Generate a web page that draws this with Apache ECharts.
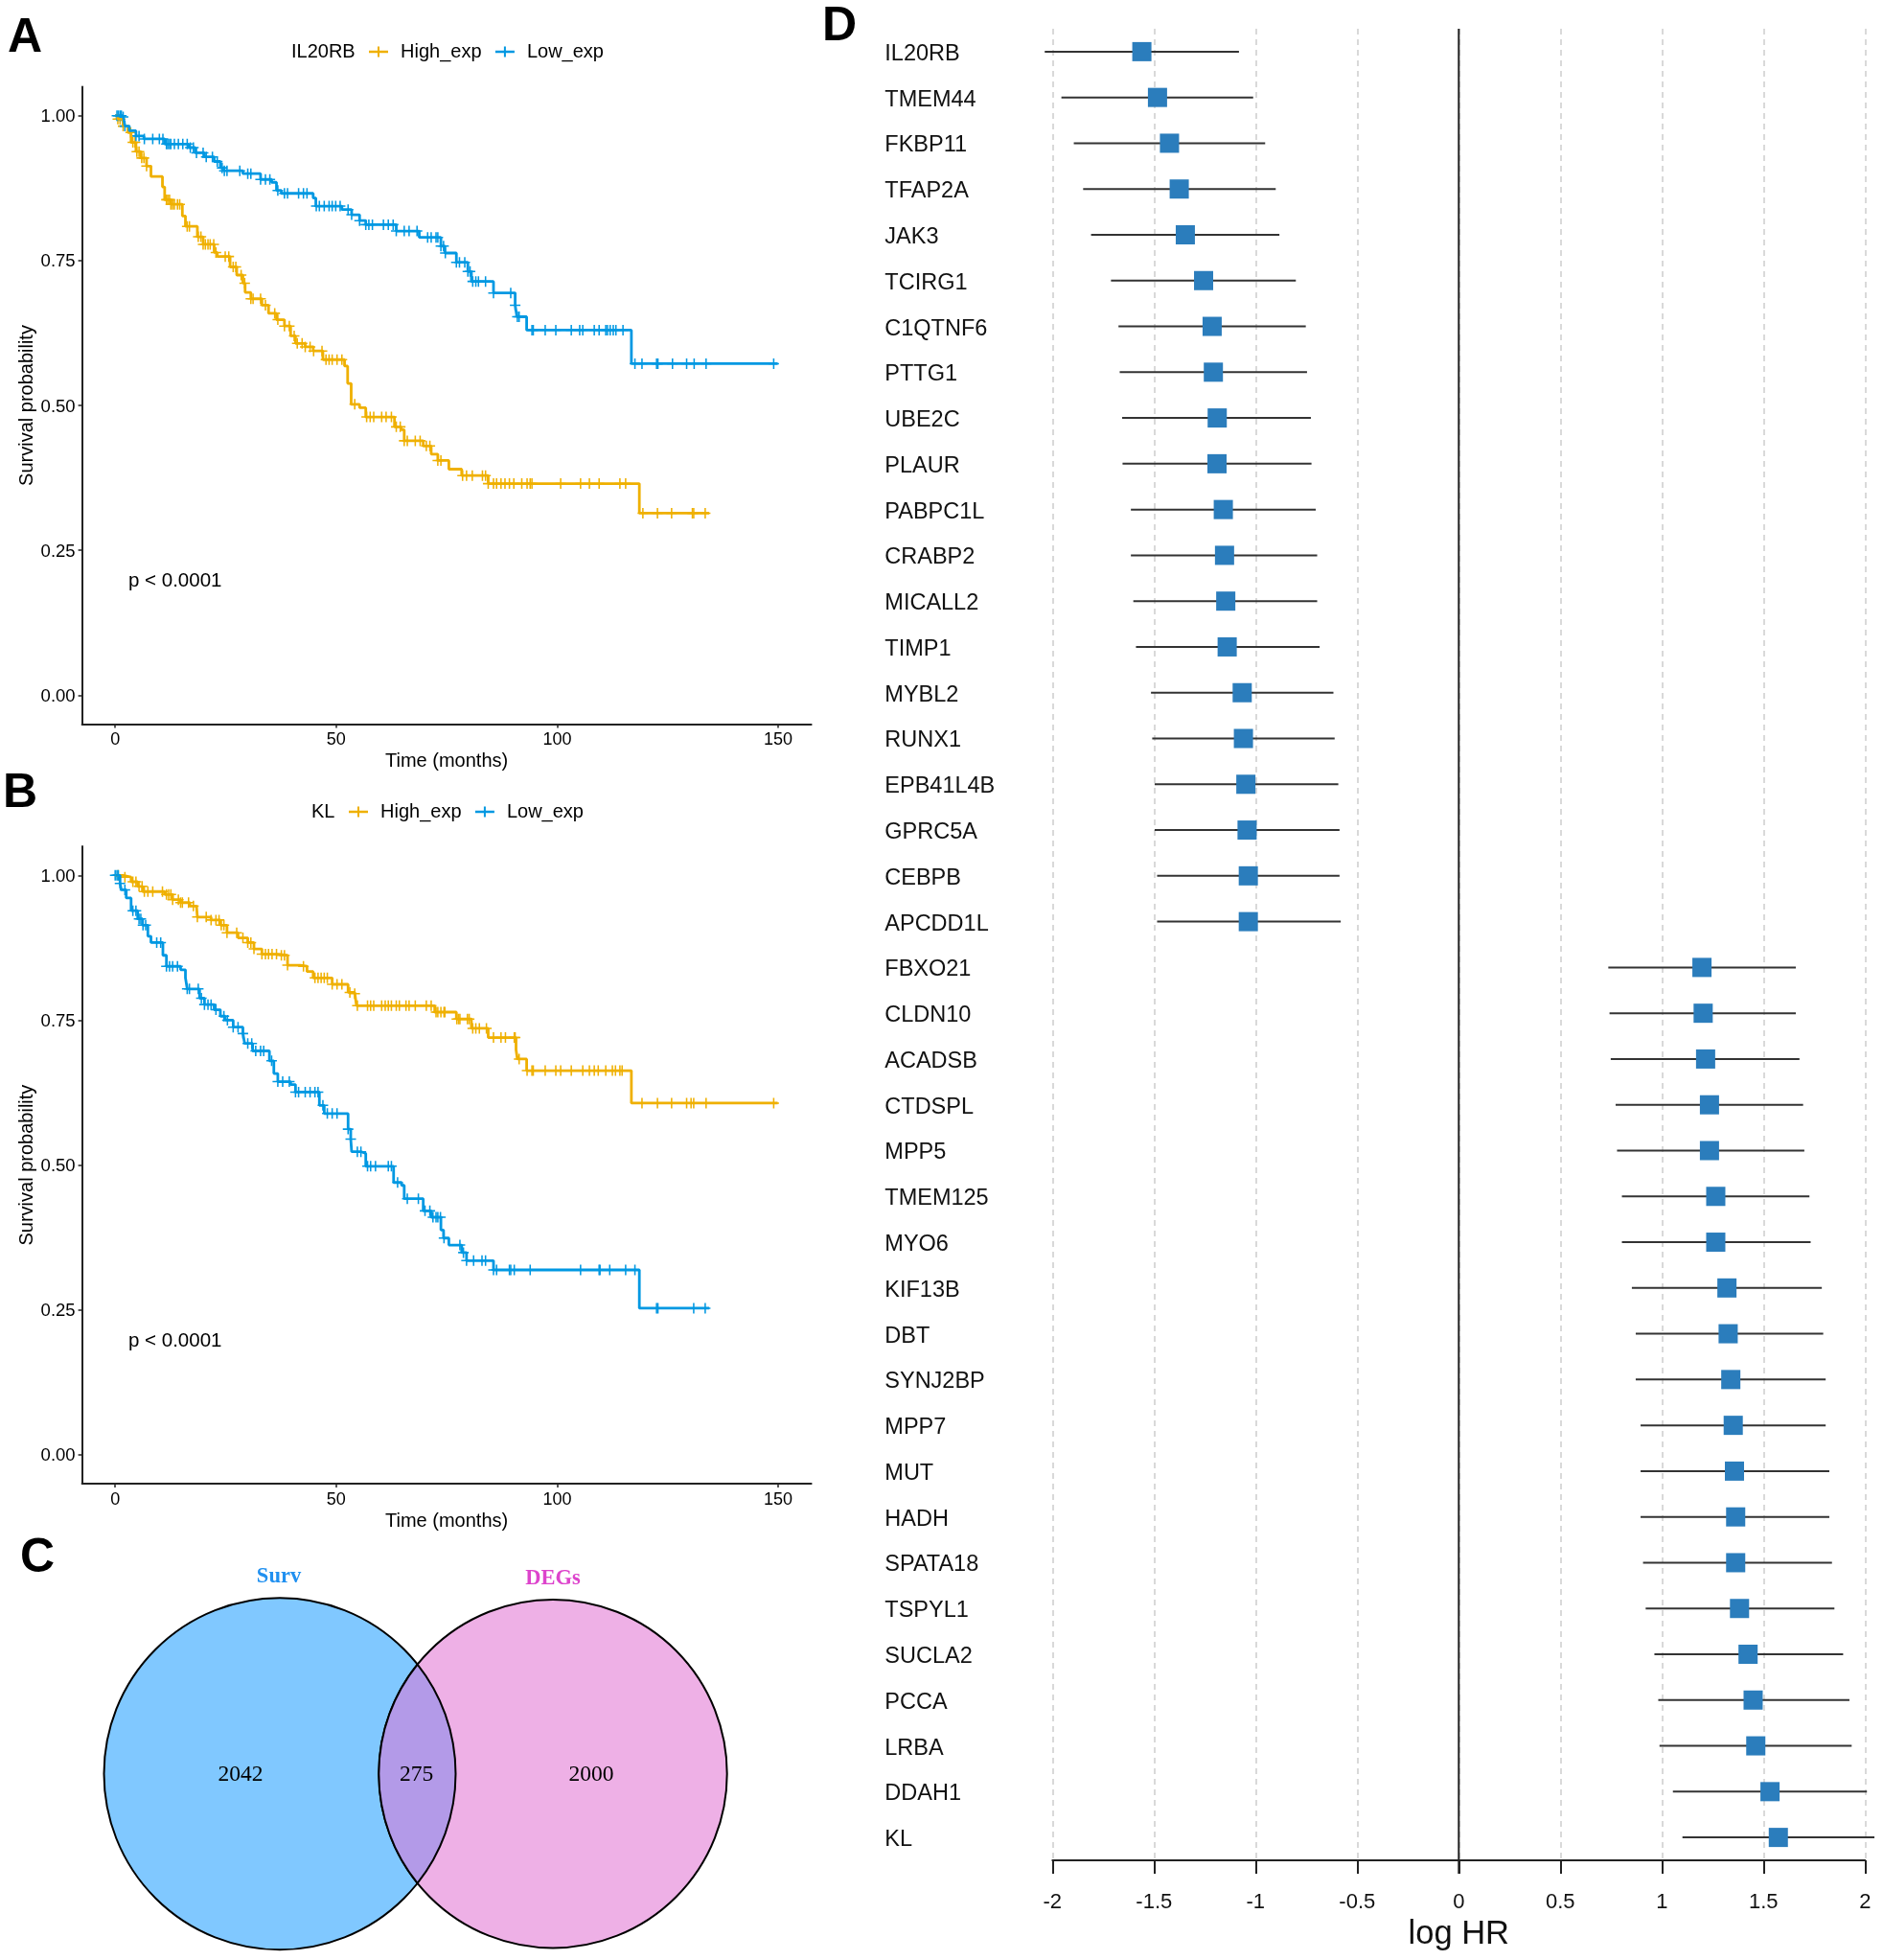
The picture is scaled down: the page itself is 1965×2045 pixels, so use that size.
<!DOCTYPE html>
<html lang="en">
<head>
    <meta charset="UTF-8">
    <title>Survival curves, Venn and forest plot</title>
    <script src="https://cdn.jsdelivr.net/npm/echarts@6/dist/echarts.min.js"></script>
    <style>
        html, body { margin: 0; padding: 0; background: #fff; }
        #chart { width: 1965px; height: 2045px; }
    </style>
</head>
<body>
    <div id="chart"></div>

    <script>
        const timeTicks = [0, 50, 100, 150];
        const survTicks = [0, 0.25, 0.5, 0.75, 1];
        const hrTicks = [-2, -1.5, -1, -0.5, 0, 0.5, 1, 1.5, 2];
        const seriesNames = ['High_exp', 'Low_exp'];

        // Panel A: IL20RB, step change points
        const aHighT = [0, 0.6, 1.8, 2.9, 3.6, 4.7, 5.8, 7.1, 8.1, 10.7,
            11.2, 12.6, 15.2, 15.9, 18.6, 19.9, 22.4, 23.1, 26.0, 27.5,
            28.9, 29.4, 30.7, 33.2, 34.7, 36.5, 38.3, 39.7, 40.8, 43.0,
            44.8, 47.0, 51.9, 52.6, 53.4, 55.3, 56.7, 63.2, 64.7, 65.4,
            69.7, 71.5, 73.0, 75.5, 78.4, 84.4, 118.6, 134.4];
        const aHighS = [1, 0.994, 0.982, 0.971, 0.954, 0.938, 0.927, 0.913, 0.895, 0.877,
            0.855, 0.847, 0.827, 0.809, 0.791, 0.778, 0.764, 0.757, 0.739, 0.725,
            0.711, 0.695, 0.684, 0.673, 0.659, 0.648, 0.637, 0.620, 0.607, 0.601,
            0.594, 0.579, 0.568, 0.538, 0.502, 0.496, 0.480, 0.463, 0.458, 0.439,
            0.430, 0.416, 0.405, 0.390, 0.379, 0.365, 0.314, 0.314];
        const aHighCens = [0.6, 1.1, 1.8, 3.5, 4, 4.5, 4.9, 5.4, 6, 6.5, 7.1, 11.6, 11.9, 12.3, 12.6, 13, 13.4, 14.1, 14.6,
            16.3, 16.8, 18.8, 19.4, 19.9, 20.4, 21, 21.5, 22.3, 22.8, 24.9, 25.7, 26.7, 27.3, 28.5, 29.3, 30.7, 31.2, 32.9, 34,
            36.1, 36.8, 38.3, 39.4, 40.5, 41.2, 42.3, 43, 44.1, 44.9, 46.8, 47.7, 48.4, 49.1, 50.2, 51.3, 54.2, 56.9, 57.7, 58.5,
            60.3, 61.3, 62.5, 63.6, 64.5, 65.4, 66.1, 67.9, 69, 70.4, 71.2, 73, 73.7, 78.6, 79.5, 80.8, 83.1, 83.8, 84.4, 85.6,
            86.3, 87.3, 88.2, 89.2, 90.2, 92, 93.2, 93.9, 94.3, 100.8, 105.3, 107.3, 109.5, 114.2, 115.5, 119.4, 122.7, 125.9,
            130.6, 130.9, 133.5];

        const aLowT = [0, 1.8, 2.2, 3.2, 4.7, 6.5, 11.2, 16.6, 18.1, 20.2,
            22.4, 23.8, 24.6, 28.9, 32.9, 35.4, 36.5, 37.6, 44.8, 45.4,
            51.3, 53.5, 55.3, 56.7, 63.6, 68.8, 73.7, 74.6, 77.2, 79.8,
            80.6, 85.6, 90.5, 90.9, 93.1, 116.8, 149.9];
        const aLowS = [1, 0.998, 0.982, 0.974, 0.965, 0.960, 0.951, 0.945, 0.936, 0.929,
            0.921, 0.910, 0.905, 0.900, 0.890, 0.885, 0.871, 0.866, 0.858, 0.844,
            0.838, 0.829, 0.819, 0.812, 0.801, 0.790, 0.775, 0.763, 0.747, 0.731,
            0.714, 0.694, 0.673, 0.653, 0.630, 0.572, 0.572];
        const aLowCens = [0.4, 0.7, 1.1, 1.4, 1.8, 2.2, 4.7, 5.4, 6.6, 8.5, 10, 10.8, 11.6, 11.9, 12.3, 12.6, 13.4, 14.3, 15.3,
            16.3, 17, 17.7, 18.4, 19.9, 20.6, 22, 23.1, 24.2, 24.7, 25.3, 28.2, 30, 30.7, 32.9, 34, 35, 36.8, 38.3, 39, 41.5, 42.6,
            43.4, 45.5, 46.2, 47.3, 48.4, 49.1, 49.9, 50.9, 52.7, 53.5, 55.3, 56.7, 57.4, 58.2, 60.7, 61.8, 62.9, 63.6, 65.4, 66.5,
            68.3, 70.7, 71.5, 72.6, 73, 73.7, 74.3, 74.7, 77.2, 77.9, 79.1, 79.8, 80.3, 80.9, 81.6, 82.2, 83.8, 85.6, 89.5, 90.5,
            91, 91.4, 94.3, 94.6, 97.3, 99.7, 103.2, 105.1, 105.8, 108.4, 109.5, 111, 111.4, 112, 112.7, 113.3, 114.9, 117.6,
            119.2, 122.5, 122.8, 126.1, 129.3, 131, 133.7, 149];

        // Panel B: KL
        const bHighT = [0, 1.8, 3.6, 5.1, 6.2, 11.2, 13.0, 14.8, 16.9, 18.4,
            18.6, 21.7, 23.8, 25.3, 27.8, 30.0, 31.4, 33.2, 36.8, 39.0,
            41.9, 43.4, 44.8, 49.1, 52.7, 54.2, 54.6, 72.3, 77.2, 80.6,
            84.4, 90.7, 91.0, 93.1, 116.8, 149.9];
        const bHighS = [1, 0.997, 0.989, 0.981, 0.972, 0.967, 0.958, 0.953, 0.947, 0.945,
            0.928, 0.923, 0.914, 0.901, 0.892, 0.884, 0.873, 0.864, 0.862, 0.845,
            0.843, 0.834, 0.823, 0.812, 0.798, 0.796, 0.775, 0.764, 0.752, 0.736,
            0.720, 0.699, 0.683, 0.663, 0.607, 0.607];
        const bHighCens = [0.7, 2.2, 4, 4.7, 5.4, 6.1, 6.6, 7.4, 8.5, 10.7, 11.6, 12.1, 12.6, 13, 14.3, 14.8, 15.2, 16.6, 17.7,
            18.6, 20.6, 21.7, 22.8, 23.5, 24, 24.6, 25.3, 27.5, 28.9, 30, 30.7, 31.4, 33.2, 34, 34.7, 35.5, 36.5, 37.6, 38.3, 39,
            42.6, 45.2, 45.9, 46.6, 47.3, 48, 49.1, 50.2, 51.3, 53.1, 54.2, 54.8, 57.1, 57.8, 58.5, 60.3, 61.1, 61.8, 62.5, 63.6,
            64.3, 65.8, 66.5, 67.9, 70.4, 71.5, 72.6, 73, 73.7, 74.4, 74.6, 77.3, 77.7, 78, 79.7, 80.1, 80.9, 81.6, 82.4, 84, 85.6,
            87.3, 88.3, 90.3, 90.5, 91.4, 93.2, 94.3, 94.6, 97.3, 99.7, 100.8, 103.2, 105.8, 107.3, 108.4, 109.3, 111, 112.5, 113.2,
            114.2, 114.7, 119.2, 122.7, 125.9, 129.3, 130.3, 130.9, 133.7, 149];

        const bLowT = [0, 1.1, 1.4, 2.5, 3.6, 5.1, 6.2, 7.4, 8.1, 10.8,
            11.6, 14.8, 15.9, 16.3, 19.1, 20.2, 22.4, 23.8, 24.9, 26.7,
            28.9, 29.3, 31.1, 34.9, 35.9, 36.8, 39.7, 40.8, 46.2, 47.3,
            52.7, 53.3, 53.5, 55.7, 56.7, 63.0, 64.8, 65.4, 69.7, 71.5,
            73.7, 74.3, 75.5, 78.4, 79.5, 85.6, 118.6, 134.4];
        const bLowS = [1, 0.986, 0.975, 0.961, 0.939, 0.925, 0.914, 0.895, 0.884, 0.862,
            0.843, 0.837, 0.823, 0.804, 0.788, 0.777, 0.768, 0.757, 0.750, 0.738,
            0.727, 0.710, 0.697, 0.680, 0.658, 0.644, 0.639, 0.626, 0.603, 0.589,
            0.562, 0.545, 0.523, 0.520, 0.498, 0.470, 0.465, 0.442, 0.421, 0.410,
            0.388, 0.374, 0.362, 0.349, 0.335, 0.319, 0.253, 0.253];
        const bLowCens = [0, 0.4, 0.7, 1.1, 2.2, 4, 4.7, 5.4, 5.8, 6.3, 6.9, 9.4, 10.3, 11.6, 12.3, 13, 14.1, 16.3, 16.8,
            18.8, 19.5, 20.2, 21, 21.7, 22.8, 24.6, 25.4, 26.7, 27.8, 28.9, 30, 30.9, 31.8, 32.9, 33.6, 35.4, 36.8, 37.9, 39.4,
            40.8, 41.5, 43, 44.1, 45.2, 45.9, 47, 48, 49.1, 50.2, 52.7, 53.3, 54.8, 55.6, 57.1, 57.8, 58.9, 61.8, 62.5, 63.9, 66.1,
            68.6, 70.1, 71.2, 71.9, 72.6, 73, 73.6, 74.4, 78, 78.8, 79.5, 81.1, 83, 83.8, 85.6, 86.3, 89.2, 89.5, 90.3, 93.9,
            105.3, 109.5, 109.7, 111.9, 115.5, 117.6, 122.5, 122.8, 130.9, 133.5];

        // Panel C
        const vennNames = ['Surv', 'DEGs'];
        const vennCounts = [2042, 2000, 275];

        // Panel D
        const genes = ['IL20RB', 'TMEM44', 'FKBP11', 'TFAP2A', 'JAK3', 'TCIRG1', 'C1QTNF6', 'PTTG1', 'UBE2C', 'PLAUR',
            'PABPC1L', 'CRABP2', 'MICALL2', 'TIMP1', 'MYBL2', 'RUNX1', 'EPB41L4B', 'GPRC5A', 'CEBPB', 'APCDD1L',
            'FBXO21', 'CLDN10', 'ACADSB', 'CTDSPL', 'MPP5', 'TMEM125', 'MYO6', 'KIF13B', 'DBT', 'SYNJ2BP',
            'MPP7', 'MUT', 'HADH', 'SPATA18', 'TSPYL1', 'SUCLA2', 'PCCA', 'LRBA', 'DDAH1', 'KL'];
        const logHR = [-1.56, -1.483, -1.424, -1.376, -1.346, -1.256, -1.214, -1.208, -1.189, -1.19,
            -1.159, -1.153, -1.147, -1.14, -1.066, -1.06, -1.048, -1.042, -1.036, -1.036,
            1.197, 1.203, 1.215, 1.234, 1.234, 1.265, 1.265, 1.32, 1.326, 1.339,
            1.351, 1.357, 1.363, 1.363, 1.382, 1.424, 1.449, 1.462, 1.532, 1.573];
        const logHRLow = [-2.038, -1.956, -1.895, -1.849, -1.81, -1.712, -1.675, -1.669, -1.657, -1.655,
            -1.614, -1.614, -1.602, -1.589, -1.515, -1.509, -1.497, -1.497, -1.485, -1.485,
            0.736, 0.742, 0.748, 0.772, 0.779, 0.803, 0.803, 0.852, 0.871, 0.871,
            0.895, 0.895, 0.895, 0.907, 0.92, 0.963, 0.982, 0.988, 1.054, 1.101];
        const logHRHigh = [-1.082, -1.012, -0.953, -0.901, -0.883, -0.802, -0.753, -0.747, -0.728, -0.725,
            -0.704, -0.697, -0.697, -0.685, -0.617, -0.611, -0.593, -0.587, -0.587, -0.581,
            1.659, 1.659, 1.677, 1.695, 1.701, 1.726, 1.732, 1.787, 1.794, 1.806,
            1.806, 1.824, 1.824, 1.837, 1.849, 1.892, 1.923, 1.934, 2.009, 2.046];

        const HIGH_COLOR = '#EFB000';
        const LOW_COLOR = '#0098E2';
        const AXIS_COLOR = '#222';
        const SANS = '"Liberation Sans", Arial, sans-serif';
        const SERIF = '"Liberation Serif", "Times New Roman", serif';
        const PLUS = 'path://M-1.4,-10H1.4V-1.4H10V1.4H1.4V10H-1.4V1.4H-10V-1.4H-1.4Z';
        const LEGEND_PLUS = 'path://M-10,-2.2H-1V-10H1V-2.2H10V2.2H1V10H-1V2.2H-10Z';

        // survival value of a step curve at time t
        function stepAt(times, surv, t) {
            let s = surv[0];
            for (let i = 0; i < times.length; i++) {
                if (times[i] <= t) s = surv[i];
            }
            return s;
        }

        function kmSeries(name, color, times, surv, cens, axis) {
            return [
                {
                    name: name,
                    type: 'line',
                    step: 'end',
                    xAxisIndex: axis,
                    yAxisIndex: axis,
                    showSymbol: false,
                    silent: true,
                    lineStyle: { color: color, width: 2.8 },
                    itemStyle: { color: color },
                    data: times.map((t, i) => [t, surv[i]])
                },
                {
                    type: 'scatter',
                    xAxisIndex: axis,
                    yAxisIndex: axis,
                    symbol: PLUS,
                    symbolSize: 11,
                    silent: true,
                    itemStyle: { color: color, opacity: 1 },
                    data: cens.map(t => [t, stepAt(times, surv, t)])
                }
            ];
        }

        function kmXAxis(grid) {
            return {
                type: 'value',
                gridIndex: grid,
                min: -7.5,
                max: 157.5,
                name: 'Time (months)',
                nameLocation: 'middle',
                nameGap: 29,
                nameTextStyle: { fontFamily: SANS, fontSize: 20, color: '#000' },
                splitLine: { show: false },
                axisLine: { show: true, onZero: false, lineStyle: { color: AXIS_COLOR, width: 2 } },
                axisTick: { show: true, length: 4, customValues: timeTicks, lineStyle: { color: AXIS_COLOR, width: 1.5 } },
                axisLabel: { customValues: timeTicks, margin: 8, fontFamily: SANS, fontSize: 18, color: '#000' }
            };
        }

        function kmYAxis(grid) {
            return {
                type: 'value',
                gridIndex: grid,
                min: -0.05,
                max: 1.05,
                name: 'Survival probability',
                nameLocation: 'middle',
                nameGap: 45,
                nameTextStyle: { fontFamily: SANS, fontSize: 20, color: '#000' },
                splitLine: { show: false },
                axisLine: { show: true, onZero: false, lineStyle: { color: AXIS_COLOR, width: 2 } },
                axisTick: { show: true, length: 4, customValues: survTicks, lineStyle: { color: AXIS_COLOR, width: 1.5 } },
                axisLabel: {
                    customValues: survTicks,
                    margin: 7,
                    verticalAlign: 'top',
                    lineHeight: 3,
                    fontFamily: SANS,
                    fontSize: 18.5,
                    color: '#000',
                    formatter: v => v.toFixed(2)
                }
            };
        }

        function kmLegend(left, top) {
            return {
                left: left,
                top: top,
                padding: 0,
                data: seriesNames,
                selectedMode: false,
                icon: LEGEND_PLUS,
                symbolKeepAspect: false,
                itemWidth: 20,
                itemHeight: 11,
                itemGap: 14.4,
                textStyle: { fontFamily: SANS, fontSize: 20, color: '#000', padding: [0, 0, 0, 8] }
            };
        }

        function label(text, x, y, size, weight) {
            return {
                type: 'text',
                x: x,
                y: y,
                style: {
                    text: text,
                    fill: '#000',
                    font: (weight || 'normal') + ' ' + size + 'px ' + SANS,
                    textVerticalAlign: 'middle'
                }
            };
        }

        // Venn geometry, in page pixels
        const venn = { y: 1850.7, x1: 292, r1: 183.5, x2: 577, r2: 181.7 };

        function renderVenn(params, api) {
            const i = params.dataIndex;
            const line = { stroke: '#000', lineWidth: 2 };
            const count = (x) => ({
                type: 'text',
                z2: 10,
                style: {
                    text: String(vennCounts[i]),
                    x: x,
                    y: venn.y + 1,
                    fill: '#000',
                    font: '23.5px ' + SERIF,
                    textAlign: 'center',
                    textVerticalAlign: 'middle'
                }
            });
            const title = (x, y, color) => ({
                type: 'text',
                style: {
                    text: vennNames[i],
                    x: x,
                    y: y,
                    fill: color,
                    font: 'bold 22.5px ' + SERIF,
                    textAlign: 'center',
                    textVerticalAlign: 'middle'
                }
            });
            if (i === 0) {
                return { type: 'group', children: [
                    { type: 'circle', shape: { cx: venn.x1, cy: venn.y, r: venn.r1 }, style: { fill: '#80C8FF', ...line } },
                    title(291, 1645, '#2090F0'),
                    count(251)
                ] };
            }
            if (i === 1) {
                return { type: 'group', children: [
                    { type: 'circle', shape: { cx: venn.x2, cy: venn.y, r: venn.r2 }, style: { fill: '#EEB0E6', ...line } },
                    title(577, 1647, '#DD44CC'),
                    count(617)
                ] };
            }
            const d = venn.x2 - venn.x1;
            const a = (d * d + venn.r1 * venn.r1 - venn.r2 * venn.r2) / (2 * d);
            const h = Math.sqrt(venn.r1 * venn.r1 - a * a);
            const px = venn.x1 + a;
            const lens = 'M' + px + ',' + (venn.y - h) +
                'A' + venn.r1 + ',' + venn.r1 + ' 0 0 1 ' + px + ',' + (venn.y + h) +
                'A' + venn.r2 + ',' + venn.r2 + ' 0 0 1 ' + px + ',' + (venn.y - h) + 'Z';
            return { type: 'group', children: [
                { type: 'path', shape: { pathData: lens }, style: { fill: '#B39AE8', ...line } },
                count(434.5)
            ] };
        }

        function renderCI(params, api) {
            const a = api.coord([api.value(0), api.value(2)]);
            const b = api.coord([api.value(1), api.value(2)]);
            return {
                type: 'line',
                shape: { x1: a[0], y1: a[1], x2: b[0], y2: b[1] },
                style: { stroke: '#333', lineWidth: 2 }
            };
        }

        // solid reference line at HR 0, through the whole panel and its tick
        function renderZero(params, api) {
            const x = api.coord([api.value(0), 0])[0];
            return {
                type: 'line',
                shape: { x1: x, y1: params.coordSys.y, x2: x, y2: params.coordSys.y + params.coordSys.height + 14 },
                style: { stroke: '#222', lineWidth: 2 }
            };
        }

        const chart = echarts.init(document.getElementById('chart'));

        chart.setOption({
            backgroundColor: '#fff',
            animation: false,
            grid: [
                { left: 85.6, top: 90.5, width: 761, height: 665 },
                { left: 85.6, top: 883.1, width: 761, height: 665 },
                { left: 1098.3, top: 30, width: 848, height: 1911 }
            ],
            legend: [kmLegend(385, 44), kmLegend(364, 837)],
            xAxis: [
                kmXAxis(0),
                kmXAxis(1),
                {
                    type: 'value',
                    gridIndex: 2,
                    min: -2,
                    max: 2,
                    name: 'log HR',
                    nameLocation: 'middle',
                    nameGap: 59,
                    nameTextStyle: { fontFamily: SANS, fontSize: 34.5, color: '#111' },
                    splitLine: { show: true, lineStyle: { color: '#D9D9D9', width: 2, type: [6, 5] } },
                    axisLine: { show: true, onZero: false, lineStyle: { color: AXIS_COLOR, width: 2 } },
                    axisTick: { show: true, length: 14, customValues: hrTicks, lineStyle: { color: AXIS_COLOR, width: 2 } },
                    axisLabel: {
                        customValues: hrTicks,
                        margin: 33,
                        fontFamily: SANS,
                        fontSize: 22,
                        color: '#111',
                        formatter: v => String(v)
                    }
                }
            ],
            yAxis: [
                kmYAxis(0),
                kmYAxis(1),
                {
                    type: 'category',
                    gridIndex: 2,
                    inverse: true,
                    data: genes,
                    axisLine: { show: false },
                    axisTick: { show: false },
                    splitLine: { show: false },
                    axisLabel: {
                        interval: 0,
                        align: 'left',
                        verticalAlign: 'top',
                        lineHeight: 5,
                        margin: 175,
                        fontFamily: SANS,
                        fontSize: 23.5,
                        color: '#111'
                    }
                }
            ],
            series: [
                ...kmSeries(seriesNames[0], HIGH_COLOR, aHighT, aHighS, aHighCens, 0),
                ...kmSeries(seriesNames[1], LOW_COLOR, aLowT, aLowS, aLowCens, 0),
                ...kmSeries(seriesNames[0], HIGH_COLOR, bHighT, bHighS, bHighCens, 1),
                ...kmSeries(seriesNames[1], LOW_COLOR, bLowT, bLowS, bLowCens, 1),
                {
                    type: 'custom',
                    coordinateSystem: 'none',
                    silent: true,
                    renderItem: renderVenn,
                    data: vennCounts
                },
                {
                    type: 'custom',
                    xAxisIndex: 2,
                    yAxisIndex: 2,
                    silent: true,
                    renderItem: renderZero,
                    encode: { x: 0, y: 1 },
                    data: [[0, 0]]
                },
                {
                    type: 'custom',
                    xAxisIndex: 2,
                    yAxisIndex: 2,
                    silent: true,
                    renderItem: renderCI,
                    encode: { x: [0, 1], y: 2 },
                    data: genes.map((g, i) => [logHRLow[i], logHRHigh[i], i])
                },
                {
                    type: 'scatter',
                    xAxisIndex: 2,
                    yAxisIndex: 2,
                    symbol: 'rect',
                    symbolSize: 20,
                    silent: true,
                    itemStyle: { color: '#2B7DBC', opacity: 1 },
                    data: genes.map((g, i) => [logHR[i], g])
                }
            ],
            graphic: [
                label('A', 8, 40, 50, 'bold'),
                label('B', 3, 828, 50, 'bold'),
                label('C', 21, 1626, 50, 'bold'),
                label('D', 858, 28, 50, 'bold'),
                label('IL20RB', 304, 54, 20),
                label('KL', 325, 847, 20),
                label('p < 0.0001', 134, 606, 20.5),
                label('p < 0.0001', 134, 1399, 20.5)
            ]
        });

        window.addEventListener('resize', function () {
            chart.resize();
        });
    </script>
</body>
</html>
